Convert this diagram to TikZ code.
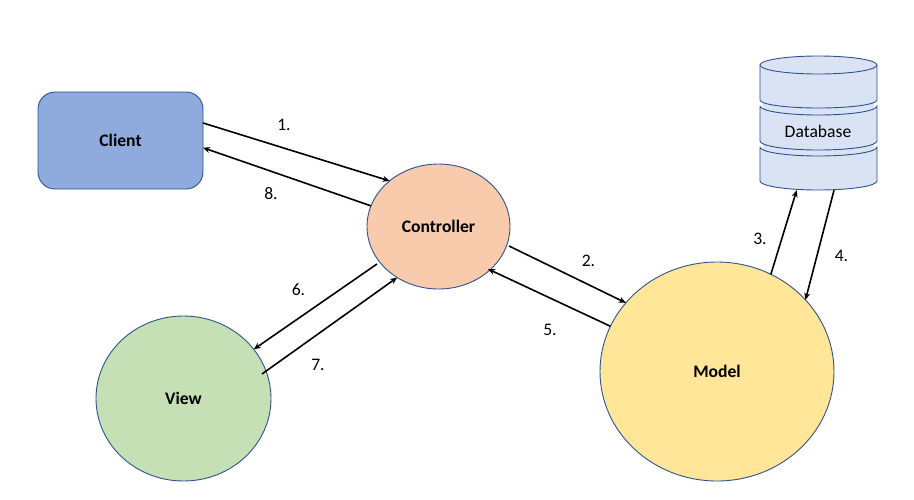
\documentclass[tikz,border=0pt]{standalone}
\usepackage{fontspec}
\setmainfont{Carlito}
\usetikzlibrary{arrows.meta,shapes.geometric}
\definecolor{ClientBlue}{HTML}{8FAADC}
\definecolor{ControllerOrange}{HTML}{F8CBAD}
\definecolor{ModelYellow}{HTML}{FFE699}
\definecolor{ViewGreen}{HTML}{C5E0B4}
\definecolor{DatabaseBlue}{HTML}{DAE3F3}
\definecolor{BorderBlue}{HTML}{2F528F}
\tikzset{
  part/.style={draw=BorderBlue,line width=0.9pt,inner sep=0pt,outer sep=0pt,
    font=\fontsize{17.6}{20}\selectfont\bfseries},
  blob/.style={part,ellipse},
  drum/.style={draw=BorderBlue,fill=DatabaseBlue,line width=0.9pt},
  flow/.style={-{Stealth[length=7pt,width=6pt]},line width=1.6pt},
  num/.style={font=\fontsize{17.6}{20}\selectfont}
}
\begin{document}
\begin{tikzpicture}[x=1pt,y=-1pt]
  \useasboundingbox (0,0) rectangle (914,499);
  % database drum
  \fill[DatabaseBlue] (763,90) rectangle (874,170);
  \foreach \top/\bot in {147/181,106/141}{
    \draw[drum]
      (760,\top) -- (760,\bot) arc[start angle=180,end angle=360,x radius=58.5pt,y radius=9pt]
      -- (877,\top) arc[start angle=0,end angle=-180,x radius=58.5pt,y radius=9pt];
  }
  \draw[drum]
    (760,65) -- (760,100) arc[start angle=180,end angle=360,x radius=58.5pt,y radius=8pt]
    -- (877,65) arc[start angle=0,end angle=180,x radius=58.5pt,y radius=9pt] -- cycle;
  \draw[draw=BorderBlue,line width=0.9pt]
    (760,65) arc[start angle=180,end angle=360,x radius=58.5pt,y radius=9pt];
  % boxes
  \node[part,fill=ClientBlue,rounded corners=17pt,minimum width=165pt,minimum height=97pt] (client) at (120.5,140.5) {Client};
  \node[blob,fill=ControllerOrange,minimum width=143pt,minimum height=125pt] (controller) at (438.5,226.5) {Controller};
  \node[blob,fill=ModelYellow,minimum width=234pt,minimum height=219pt] (model) at (717,371.5) {Model};
  \node[blob,fill=ViewGreen,minimum width=175pt,minimum height=165pt] (view) at (183.5,398.5) {View};
  \node[num,inner sep=0pt,minimum width=117pt,minimum height=134pt] (database) at (818.5,123) {};
  \node[num] (databaselabel) at (818,131.5) {Database};
  % free ends
  \coordinate (viewout) at (262,374);
  \coordinate (controllerin) at (488,269);
  \coordinate (controllerleft) at (377,264);
  \coordinate (controllerright) at (509,246);
  % arrows
  \draw[flow] (client.12.6) -- (controller.137.9);
  \draw[flow] (controllerright) -- (model.143.8);
  \draw[flow] (model.61.5) -- (database.-108.8);
  \draw[flow] (database.-77.8) -- (model.39.9);
  \draw[flow] (model.157) -- (controllerin);
  \draw[flow] (controllerleft) -- (view.35.6);
  \draw[flow] (viewout) -- (controller.-129.3);
  \draw[flow] (controller.163.7) -- (client.-5.2);
  % numbers
  \node[num] (n1) at (284,124.5) {1.};
  \node[num] (n2) at (588.5,260.5) {2.};
  \node[num] (n3) at (760,238.5) {3.};
  \node[num] (n4) at (841.5,255.5) {4.};
  \node[num] (n5) at (550,329.5) {5.};
  \node[num] (n6) at (298.5,289.5) {6.};
  \node[num] (n7) at (318,364.5) {7.};
  \node[num] (n8) at (271,193.5) {8.};
\end{tikzpicture}
\end{document}
